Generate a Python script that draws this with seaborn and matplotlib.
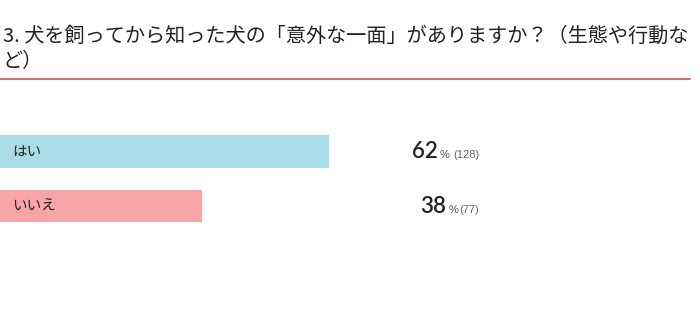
import matplotlib
matplotlib.use("Agg")
import matplotlib.pyplot as plt
from matplotlib.lines import Line2D
import seaborn as sns
import pandas as pd

# Survey answers
answers = ["はい", "いいえ"]
percents = [62, 38]
counts = [128, 77]
bar_colors = ["#a9dce8", "#f8a5a7"]

title_line1 = "3. 犬を飼ってから知った犬の「意外な一面」がありますか？（生態や行動な"
title_line2 = "ど）"

sns.set_theme(style="white")
plt.rcParams["font.family"] = ["Noto Sans CJK JP", "DejaVu Sans"]

W, H = 700, 327
fig = plt.figure(figsize=(W / 100, H / 100), dpi=100)


def fx(px):
    return px / W


def fy(py):
    return 1 - py / H


# Heading and red rule
fig.text(fx(3), fy(36), title_line1, fontsize=14.5, color="#222222",
         ha="left", va="center")
fig.text(fx(3), fy(62), title_line2, fontsize=14.5, color="#222222",
         ha="left", va="center")
fig.add_artist(Line2D([fx(0), fx(690)], [fy(79), fy(79)],
                      color="#e3585c", linewidth=1.3))

# Bars
df = pd.DataFrame({"answer": answers, "percent": percents})
ax = fig.add_axes([0, fy(233.25), 1, 109 / H])
sns.barplot(data=df, x="percent", y="answer", hue="answer",
            palette=bar_colors, width=0.6, orient="h", ax=ax,
            legend=False, saturation=1, linewidth=0)
ax.set_xlim(0, 131.9)
ax.set_ylim(1.5, -0.5)
ax.axis("off")

for i, name in enumerate(answers):
    ax.text(2.3, i + 0.01, name, fontsize=10.5, color="#222222",
            ha="left", va="center")

# Percentage labels, each group right-aligned at a fixed column
fig.canvas.draw()
renderer = fig.canvas.get_renderer()
right_px = 479
num_font = ["Lato", "DejaVu Sans"]
small_font = ["Liberation Sans", "DejaVu Sans"]
for i, (p, c) in enumerate(zip(percents, counts)):
    big = fig.text(0, 0, f"{p}", fontsize=16, color="#222222",
                   family=num_font, weight="semibold",
                   ha="left", va="baseline")
    pct = fig.text(0, 0, "%", fontsize=8, color="#555555",
                   family=small_font, ha="left", va="baseline")
    cnt = fig.text(0, 0, f"({c})", fontsize=8, color="#666666",
                   family=small_font, ha="left", va="baseline")
    wb = big.get_window_extent(renderer).width
    wp = pct.get_window_extent(renderer).width
    wc = cnt.get_window_extent(renderer).width
    gap1 = 2
    gap2 = 3 if i == 0 else 1
    total = wb + gap1 + wp + gap2 + wc
    x0 = right_px - total
    y_center = H - ax.transData.transform((0, i))[1]
    base = fy(y_center + 7)
    big.set_position((fx(x0), base))
    pct.set_position((fx(x0 + wb + gap1), base))
    cnt.set_position((fx(x0 + wb + gap1 + wp + gap2), base))

fig.savefig("out.png", dpi=100)
